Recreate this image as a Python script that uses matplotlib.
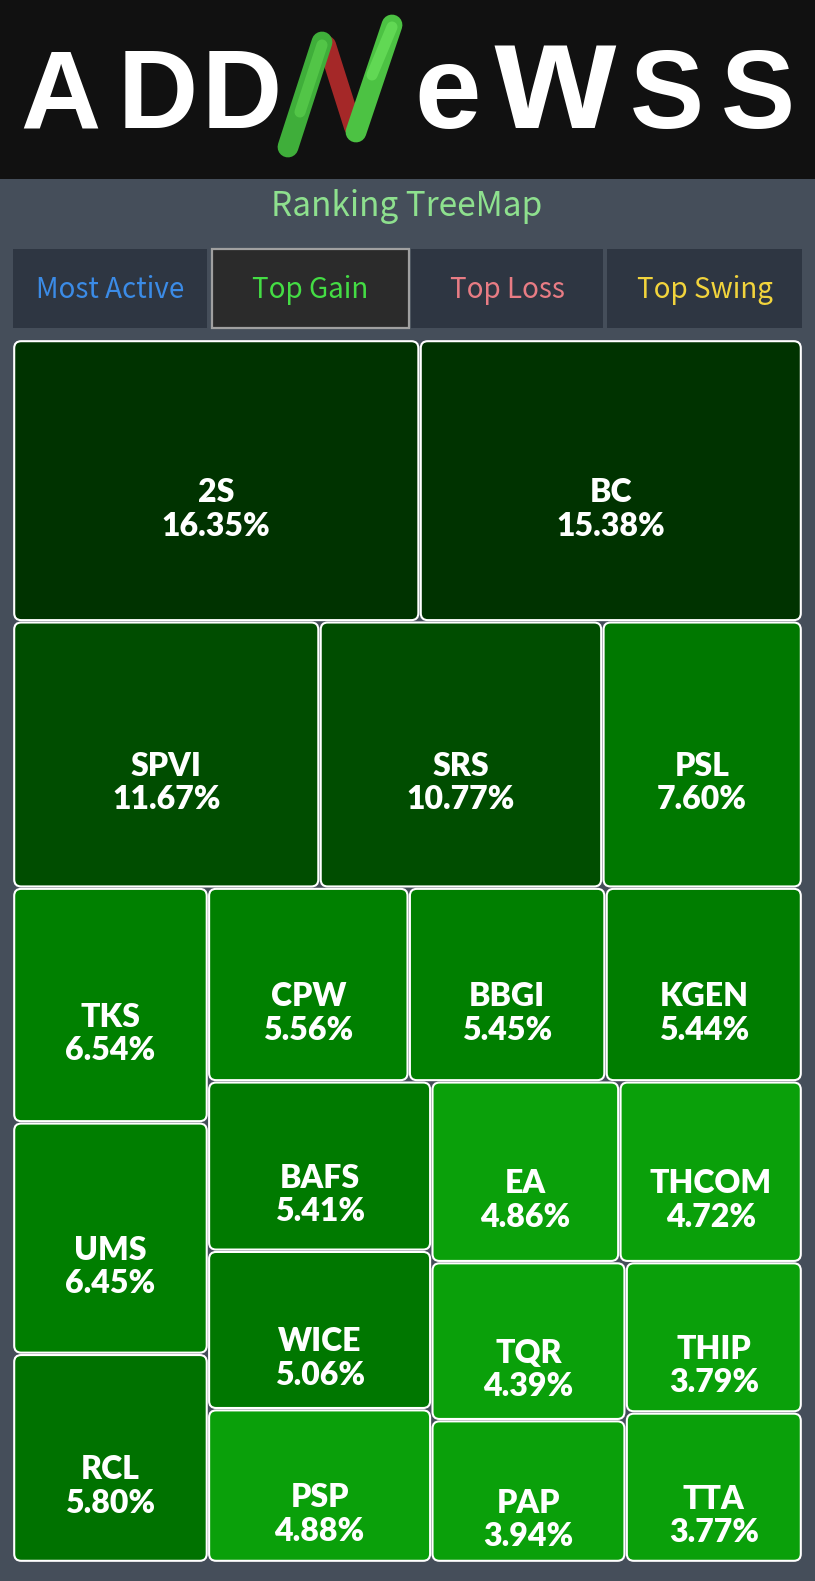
import matplotlib
matplotlib.use("Agg")
import matplotlib.pyplot as plt
from matplotlib.patches import FancyBboxPatch, Rectangle

# ---------------- data ----------------
symbols = ["2S", "BC", "SPVI", "SRS", "PSL", "TKS", "UMS", "RCL", "CPW", "BBGI",
           "KGEN", "BAFS", "WICE", "PSP", "EA", "THCOM", "TQR", "PAP", "THIP", "TTA"]
gains = [16.35, 15.38, 11.67, 10.77, 7.60, 6.54, 6.45, 5.80, 5.56, 5.45,
         5.44, 5.41, 5.06, 4.88, 4.86, 4.72, 4.39, 3.94, 3.79, 3.77]
tile_colors = ["#003300", "#003300", "#004d00", "#004d00", "#007800", "#008000",
               "#007e00", "#007200", "#008000", "#007f00", "#007d00", "#007a00",
               "#007700", "#0aa00a", "#0aa00a", "#0aa00a", "#0aa00a", "#0aa00a",
               "#0aa00a", "#0aa00a"]
tabs = ["Most Active", "Top Gain", "Top Loss", "Top Swing"]
tab_colors = ["#3b8be6", "#44dd44", "#e87c84", "#f2d43c"]
selected_tab = 1
title = "Ranking TreeMap"
logo_letters = ["A", "D", "D", "e", "w", "S", "S"]

W, H = 815, 1581


def squarify(values, x, y, w, h):
    total = sum(values)
    scale = w * h / total
    areas = [v * scale for v in values]

    def worst(row, s):
        sr = sum(row)
        return max(max(s * s * r / (sr * sr), sr * sr / (s * s * r)) for r in row)

    rects = []
    i, n = 0, len(areas)
    while i < n:
        short = min(w, h)
        row = [areas[i]]
        j = i + 1
        while j < n and worst(row + [areas[j]], short) <= worst(row, short):
            row.append(areas[j])
            j += 1
        sr = sum(row)
        if w >= h:
            cw = sr / h
            cy = y
            for a in row:
                rh = a / cw
                rects.append((x, cy, cw, rh))
                cy += rh
            x += cw
            w -= cw
        else:
            rh = sr / w
            cx = x
            for a in row:
                rw = a / rh
                rects.append((cx, y, rw, rh))
                cx += rw
            y += rh
            h -= rh
        i = j
    return rects


fig = plt.figure(figsize=(W / 100, H / 100), dpi=100)
fig.patch.set_facecolor("#454e5a")
ax = fig.add_axes([0, 0, 1, 1])
ax.set_xlim(0, W)
ax.set_ylim(H, 0)
ax.axis("off")

# ---------------- header / logo ----------------
ax.add_patch(Rectangle((0, 0), W, 179, facecolor="#111111", edgecolor="none", zorder=1))
letter_x = [60, 158, 242, 448, 555, 667, 758]
letter_size = [80, 80, 80, 86, 112, 80, 80]
for ch, lx, fs in zip(logo_letters, letter_x, letter_size):
    ax.text(lx, 128, ch, ha="center", va="baseline", color="white",
            fontsize=fs, fontweight="bold", family="Liberation Sans", zorder=3)
# stylised N
ax.plot([288, 322], [147, 42], color="#3fae3a", lw=15, solid_capstyle="round", zorder=3)
ax.plot([327, 353], [45, 127], color="#a52828", lw=13, solid_capstyle="round", zorder=2)
ax.plot([356, 392], [132, 25], color="#4cc243", lw=15, solid_capstyle="round", zorder=4)
ax.plot([300, 322], [112, 45], color="#66dd55", lw=8, solid_capstyle="round", zorder=3, alpha=0.5)
ax.plot([372, 392], [75, 27], color="#77ee66", lw=8, solid_capstyle="round", zorder=4, alpha=0.5)

# ---------------- title ----------------
ax.text(407, 206, title, ha="center", va="center", color="#8ee08e", fontsize=24,
        family=["Noto Sans CJK SC", "DejaVu Sans"], zorder=3)

# ---------------- tabs ----------------
tab_left = [13, 212, 411, 607]
tab_right = [207, 409, 603, 802]
for k, (lab, col) in enumerate(zip(tabs, tab_colors)):
    x0, x1 = tab_left[k], tab_right[k]
    if k == selected_tab:
        ax.add_patch(Rectangle((x0, 249), x1 - x0, 79, facecolor="#2b2b2b",
                               edgecolor="#a0a0a0", lw=1.6, zorder=2))
    else:
        ax.add_patch(Rectangle((x0, 249), x1 - x0, 79, facecolor="#2e3642",
                               edgecolor="none", zorder=2))
    ax.text((x0 + x1) / 2, 290, lab, ha="center", va="center", color=col, fontsize=20,
            family=["Noto Sans CJK SC", "DejaVu Sans"], zorder=3)

# ---------------- treemap ----------------
rects = squarify(gains, 13, 340, 789, 1222)
for (x, y, w, h), sym, g, c in zip(rects, symbols, gains, tile_colors):
    inset = 1.2
    ax.add_patch(FancyBboxPatch((x + inset, y + inset), w - 2 * inset, h - 2 * inset,
                                boxstyle="round,pad=0,rounding_size=7",
                                facecolor=c, edgecolor="white", lw=1.5, zorder=2))
    cx, cy = x + w / 2, y + h / 2
    ax.text(cx, cy + 12, sym, ha="center", va="center", color="white",
            fontsize=23, fontweight="heavy", family="Lato", zorder=3)
    ax.text(cx, cy + 45.5, f"{g:.2f}%", ha="center", va="center", color="white",
            fontsize=23, fontweight="heavy", family="Lato", zorder=3)

fig.savefig("out.png", dpi=100, facecolor=fig.get_facecolor())
